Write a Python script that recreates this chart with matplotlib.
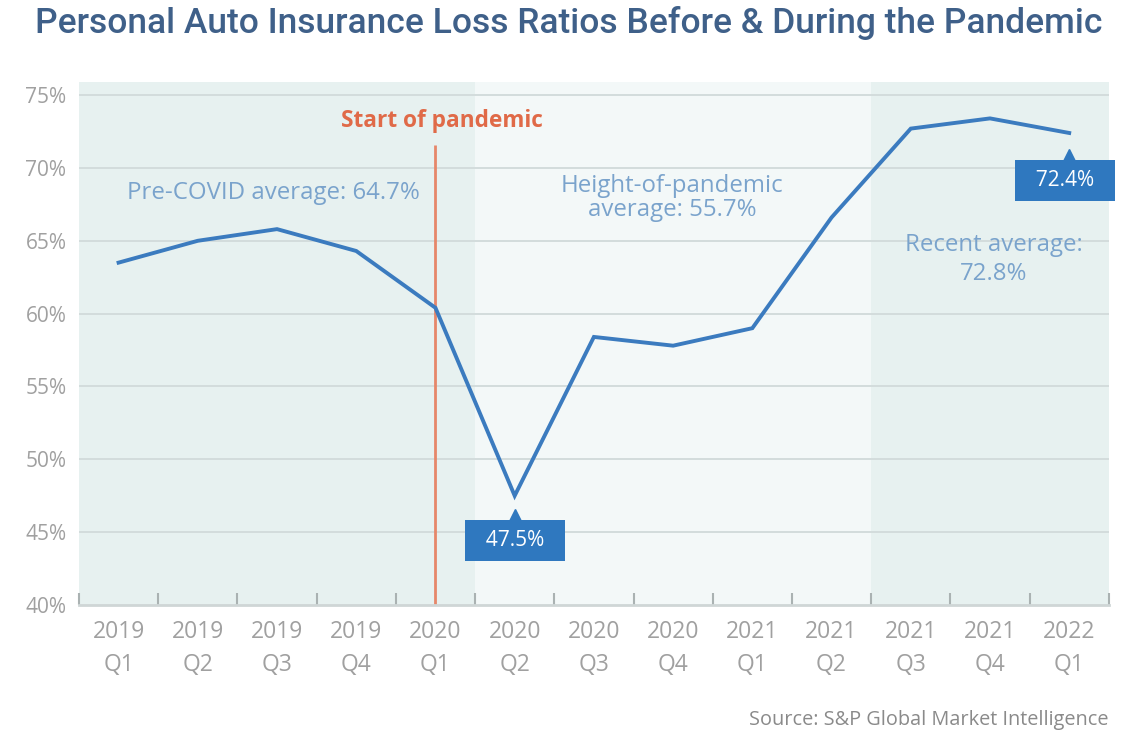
import matplotlib
matplotlib.use("Agg")
import matplotlib.pyplot as plt
from matplotlib.ticker import FixedLocator, FuncFormatter
from matplotlib.transforms import offset_copy

# Quarterly personal auto loss ratios (%)
quarters = ["2019\nQ1", "2019\nQ2", "2019\nQ3", "2019\nQ4", "2020\nQ1", "2020\nQ2",
            "2020\nQ3", "2020\nQ4", "2021\nQ1", "2021\nQ2", "2021\nQ3", "2021\nQ4",
            "2022\nQ1"]
loss_ratio = [63.5, 65.0, 65.8, 64.3, 60.4, 47.5, 58.4, 57.8, 59.0, 66.6, 72.7, 73.4, 72.4]
y_ticks = [40, 45, 50, 55, 60, 65, 70, 75]

# Period boundaries (index of first quarter in each period)
pandemic_start_idx = 4
height_start_idx = 5
height_end_idx = 9
recent_start_idx = 10
callout_idx = [5, 12]

plt.rcParams["font.family"] = ["Open Sans", "DejaVu Sans"]

fig = plt.figure(figsize=(11.28, 7.32), dpi=100)
fig.patch.set_facecolor("white")
ax = fig.add_axes([0.070, 0.1735, 0.913, 0.7145])

n = len(quarters)
x = list(range(n))
ax.set_xlim(-0.5, n - 0.5)
ax.set_ylim(40, 75.9)

dark_bg = "#e7f1f0"
light_bg = "#f3f8f8"
ax.set_facecolor(light_bg)
ax.axvspan(-0.5, height_start_idx - 0.5, color=dark_bg, zorder=0, lw=0)
ax.axvspan(recent_start_idx - 0.5, n - 0.5, color=dark_bg, zorder=0, lw=0)

# grid
for yv in y_ticks[1:]:
    ax.axhline(yv, color="#d3dcdc", lw=1.4, zorder=1)

for s in ["top", "right", "left"]:
    ax.spines[s].set_visible(False)
ax.spines["bottom"].set_color("#cfd6d6")
ax.spines["bottom"].set_linewidth(2)

label_gray = "#a0a0a0"
ax.yaxis.set_major_locator(FixedLocator(y_ticks))
ax.yaxis.set_major_formatter(FuncFormatter(lambda v, p: f"{v:.0f}%"))
ax.tick_params(axis="y", length=0, pad=9, labelsize=15, labelcolor=label_gray)

ax.set_xticks(x)
ax.set_xticklabels(quarters, linespacing=1.5)
ax.tick_params(axis="x", which="major", length=0, pad=11, labelsize=16.5,
               labelcolor=label_gray)
ax.set_xticks([i - 0.5 for i in range(n + 1)], minor=True)
ax.tick_params(axis="x", which="minor", direction="in", length=9, width=1.5,
               color="#aab2b2")

# pandemic start marker
ax.plot([pandemic_start_idx, pandemic_start_idx], [40, 71.6], color="#e6876a",
        lw=2, zorder=2, solid_capstyle="butt")
ax.text(pandemic_start_idx + 0.08, 72.4, "Start of pandemic", color="#e06a48",
        fontsize=16.3, fontweight="bold", ha="center", va="bottom", zorder=5)

# series
line_color = "#3b7bbf"
ax.plot(x, loss_ratio, color=line_color, lw=2.8, zorder=4,
        solid_joinstyle="miter")

# period averages
pre_avg = sum(loss_ratio[:pandemic_start_idx]) / pandemic_start_idx
height_vals = loss_ratio[height_start_idx:height_end_idx]
height_avg = sum(height_vals) / len(height_vals)
recent_avg = sum(loss_ratio[recent_start_idx:]) / (n - recent_start_idx)

note_color = "#7aa3cc"
ax.text(1.95, 68.3, f"Pre-COVID average: {pre_avg:.1f}%", color=note_color,
        fontsize=17.3, ha="center", va="center", zorder=5)
ax.text(6.99, 67.95, f"Height-of-pandemic\naverage: {height_avg:.1f}%", color=note_color,
        fontsize=17.3, ha="center", va="center", linespacing=1.03, zorder=5)
ax.text(11.05, 63.7, f"Recent average:\n{recent_avg:.1f}%", color=note_color,
        fontsize=17.3, ha="center", va="center", linespacing=1.3, zorder=5)

# value callouts below the points
box_color = "#2f78bf"
box_offsets = {5: (0, -32), 12: (-3, -34)}
half_box = 14.0  # points
for i in callout_idx:
    v = loss_ratio[i]
    dx, dy = box_offsets[i]
    ax.annotate(f"  {v:.1f}%  ", xy=(i, v), xytext=(dx, dy), textcoords="offset points",
                ha="center", va="center", color="white", fontsize=15, zorder=6,
                bbox=dict(boxstyle="square,pad=0.48", fc=box_color, ec="none"))
    tri = offset_copy(ax.transData, fig=fig, x=0, y=dy + half_box + 3.5, units="points")
    ax.plot([i], [v], marker="^", markersize=10, color=box_color, linestyle="none",
            zorder=6, transform=tri, clip_on=False)

fig.text(0.504, 0.968, "Personal Auto Insurance Loss Ratios Before & During the Pandemic",
         ha="center", va="center", fontsize=25.5, color="#3f6089",
         family=["Roboto", "DejaVu Sans"], fontweight="medium")
fig.text(0.983, 0.017, "Source: S&P Global Market Intelligence", ha="right",
         va="center", fontsize=14.3, color="#8a8a8a")

fig.savefig("out.png", dpi=100, facecolor="white")
